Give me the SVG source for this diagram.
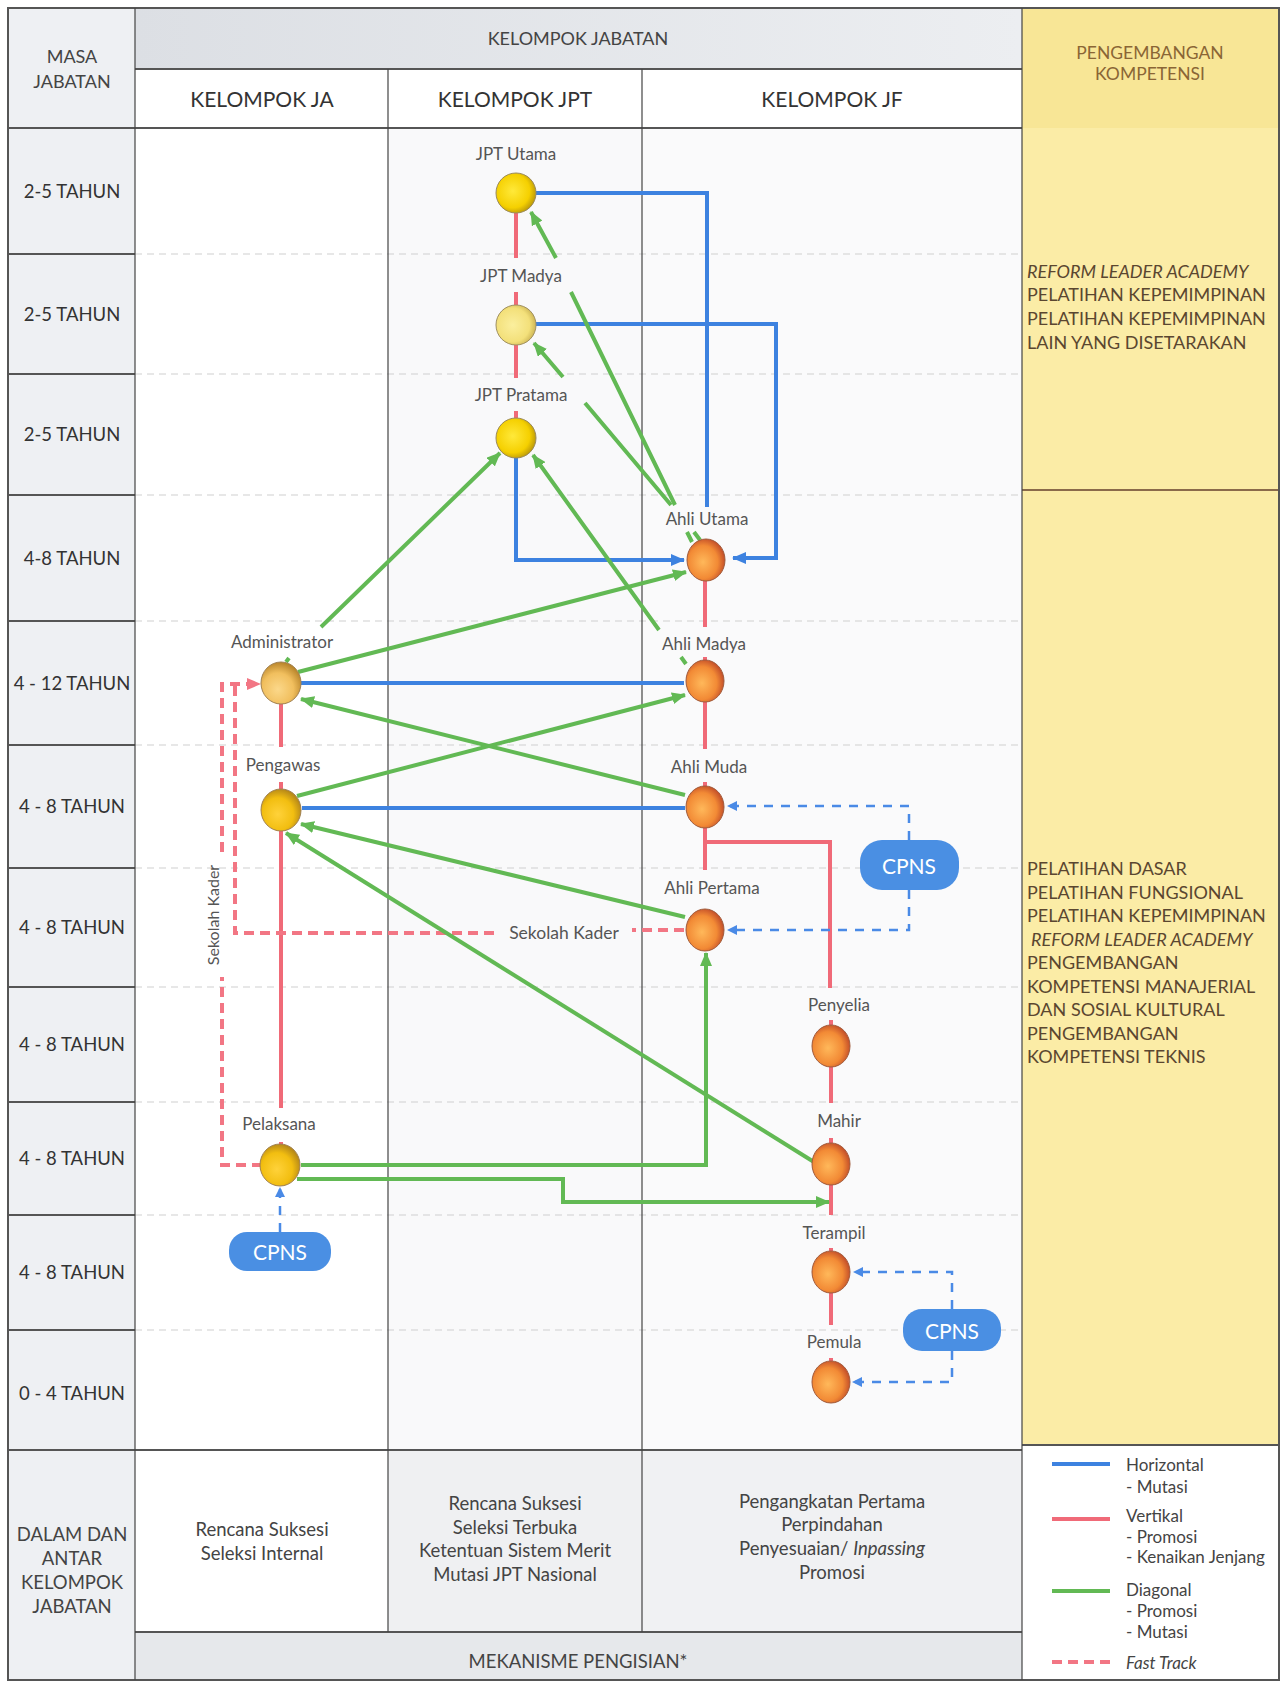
<svg xmlns="http://www.w3.org/2000/svg" width="1283" height="1683" viewBox="0 0 1283 1683">
<style>
text{font-family:Lato,"Open Sans","Liberation Sans",sans-serif}
.row{font-size:18.5px;fill:#333;text-anchor:middle;dominant-baseline:central}
.hd{font-size:18px;fill:#444;text-anchor:middle}
.sub{font-size:21px;fill:#333;text-anchor:middle}
.lbl{font-size:17px;fill:#555;text-anchor:middle}
.bot{font-size:18.5px;fill:#444;text-anchor:middle}
.yl{font-size:18px;fill:#5a4630}
.yh{font-size:17.5px;fill:#8a6535;text-anchor:middle}
.lg{font-size:17px;fill:#444}
.cp{font-size:21px;fill:#fff;text-anchor:middle;dominant-baseline:central}
.grid{stroke:#cfcfcf;stroke-width:1.2;stroke-dasharray:7 5}
.solid{stroke:#555;stroke-width:2}
.thin{stroke:#444;stroke-width:1.2}
.b{fill:none;stroke:#3d82e0;stroke-width:4}
.r{fill:none;stroke:#f06a78;stroke-width:4}
.g{fill:none;stroke:#62b954;stroke-width:4}
.rd{fill:none;stroke:#f27684;stroke-width:4;stroke-dasharray:10 6}
.bd{fill:none;stroke:#4a8ae6;stroke-width:2.5;stroke-dasharray:9 8}
.cpns{fill:#4a8fe3}
</style>
<defs>
<marker id="ag" viewBox="0 0 14 12" refX="13" refY="6" markerWidth="14" markerHeight="12" markerUnits="userSpaceOnUse" orient="auto"><path d="M0,0 L14,6 L0,12 z" fill="#62b954"/></marker>
<marker id="ab" viewBox="0 0 14 12" refX="13" refY="6" markerWidth="14" markerHeight="12" markerUnits="userSpaceOnUse" orient="auto"><path d="M0,0 L14,6 L0,12 z" fill="#3d82e0"/></marker>
<marker id="abd" viewBox="0 0 10 10" refX="9" refY="5" markerWidth="10" markerHeight="10" markerUnits="userSpaceOnUse" orient="auto"><path d="M0,0 L10,5 L0,10 z" fill="#4a8ae6"/></marker>
<marker id="ar" viewBox="0 0 14 12" refX="13" refY="6" markerWidth="14" markerHeight="12" markerUnits="userSpaceOnUse" orient="auto"><path d="M0,0 L14,6 L0,12 z" fill="#f27684"/></marker>
<radialGradient id="gY" cx="0.42" cy="0.45" r="0.6"><stop offset="0" stop-color="#ffe93a"/><stop offset="0.7" stop-color="#f5d000"/><stop offset="1" stop-color="#b8960a"/></radialGradient>
<radialGradient id="gP" cx="0.42" cy="0.5" r="0.6"><stop offset="0" stop-color="#fbef9e"/><stop offset="0.7" stop-color="#f3e07a"/><stop offset="1" stop-color="#c8b050"/></radialGradient>
<radialGradient id="gO" cx="0.42" cy="0.55" r="0.6"><stop offset="0" stop-color="#ffb85a"/><stop offset="0.65" stop-color="#f28a35"/><stop offset="1" stop-color="#c04a28"/></radialGradient>
<radialGradient id="gA" cx="0.42" cy="0.65" r="0.65"><stop offset="0" stop-color="#fbd88a"/><stop offset="0.6" stop-color="#f1bf5e"/><stop offset="1" stop-color="#b8842a"/></radialGradient>
<radialGradient id="gG" cx="0.42" cy="0.6" r="0.6"><stop offset="0" stop-color="#ffd23a"/><stop offset="0.65" stop-color="#f2be10"/><stop offset="1" stop-color="#b88a18"/></radialGradient>
<linearGradient id="hdr" x1="0" y1="0" x2="1" y2="0"><stop offset="0" stop-color="#dcdfe4"/><stop offset="1" stop-color="#eceef1"/></linearGradient>
</defs>

<g id="table">
<rect x="8" y="8" width="1271" height="1672" fill="#ffffff"/>
<rect x="8" y="8" width="127" height="1672" fill="#eef0f3"/>
<rect x="135" y="8" width="887" height="61" fill="url(#hdr)"/>
<rect x="388" y="128" width="254" height="1322" fill="#f9f9fa"/>
<rect x="642" y="128" width="380" height="1322" fill="#fafafb"/>
<rect x="388" y="1450" width="254" height="182" fill="#eff0f2"/>
<rect x="642" y="1450" width="380" height="182" fill="#f0f1f3"/>
<rect x="135" y="1632" width="887" height="48" fill="#e6e8eb"/>
<rect x="1022" y="8" width="257" height="120" fill="#f8e696"/>
<rect x="1022" y="128" width="257" height="1317" fill="#fbeca6"/>
<g class="grid">
<line x1="135" y1="254" x2="1022" y2="254"/><line x1="135" y1="374" x2="1022" y2="374"/>
<line x1="135" y1="495" x2="1022" y2="495"/><line x1="135" y1="621" x2="1022" y2="621"/>
<line x1="135" y1="745" x2="1022" y2="745"/><line x1="135" y1="868" x2="1022" y2="868"/>
<line x1="135" y1="987" x2="1022" y2="987"/><line x1="135" y1="1102" x2="1022" y2="1102"/>
<line x1="135" y1="1215" x2="1022" y2="1215"/><line x1="135" y1="1330" x2="1022" y2="1330"/>
</g>
<g class="solid">
<line x1="8" y1="254" x2="135" y2="254"/><line x1="8" y1="374" x2="135" y2="374"/>
<line x1="8" y1="495" x2="135" y2="495"/><line x1="8" y1="621" x2="135" y2="621"/>
<line x1="8" y1="745" x2="135" y2="745"/><line x1="8" y1="868" x2="135" y2="868"/>
<line x1="8" y1="987" x2="135" y2="987"/><line x1="8" y1="1102" x2="135" y2="1102"/>
<line x1="8" y1="1215" x2="135" y2="1215"/><line x1="8" y1="1330" x2="135" y2="1330"/>
<line x1="8" y1="128" x2="1022" y2="128"/><line x1="135" y1="69" x2="1022" y2="69"/>
<line x1="8" y1="1450" x2="1022" y2="1450"/><line x1="1022" y1="1445" x2="1279" y2="1445"/>
<line x1="135" y1="1632" x2="1022" y2="1632"/>
<line x1="1022" y1="490" x2="1279" y2="490" stroke="#8a6a4a"/>
<rect x="8" y="8" width="1271" height="1672" fill="none"/>
</g>
<g class="thin">
<line x1="135" y1="8" x2="135" y2="1680"/><line x1="388" y1="69" x2="388" y2="1632"/>
<line x1="642" y1="69" x2="642" y2="1632"/><line x1="1022" y1="8" x2="1022" y2="1680"/>
</g>
<text class="hd" x="72" y="63">MASA</text><text class="hd" x="72" y="88">JABATAN</text>
<text class="hd" x="578" y="45">KELOMPOK JABATAN</text>
<text class="sub" x="262" y="107">KELOMPOK JA</text>
<text class="sub" x="515" y="107">KELOMPOK JPT</text>
<text class="sub" x="832" y="107">KELOMPOK JF</text>
<text class="yh" x="1150" y="59">PENGEMBANGAN</text><text class="yh" x="1150" y="80">KOMPETENSI</text>
<text class="row" x="72" y="191">2-5 TAHUN</text>
<text class="row" x="72" y="314">2-5 TAHUN</text>
<text class="row" x="72" y="434">2-5 TAHUN</text>
<text class="row" x="72" y="558">4-8 TAHUN</text>
<text class="row" x="72" y="683">4 - 12 TAHUN</text>
<text class="row" x="72" y="806">4 - 8 TAHUN</text>
<text class="row" x="72" y="927">4 - 8 TAHUN</text>
<text class="row" x="72" y="1044">4 - 8 TAHUN</text>
<text class="row" x="72" y="1158">4 - 8 TAHUN</text>
<text class="row" x="72" y="1272">4 - 8 TAHUN</text>
<text class="row" x="72" y="1393">0 - 4 TAHUN</text>
<text class="bot" x="72" y="1541">DALAM DAN</text><text class="bot" x="72" y="1565">ANTAR</text>
<text class="bot" x="72" y="1589">KELOMPOK</text><text class="bot" x="72" y="1613">JABATAN</text>
<text class="bot" x="262" y="1536">Rencana Suksesi</text><text class="bot" x="262" y="1560">Seleksi Internal</text>
<text class="bot" x="515" y="1510">Rencana Suksesi</text><text class="bot" x="515" y="1534">Seleksi Terbuka</text>
<text class="bot" x="515" y="1557">Ketentuan Sistem Merit</text><text class="bot" x="515" y="1581">Mutasi JPT Nasional</text>
<text class="bot" x="832" y="1508">Pengangkatan Pertama</text><text class="bot" x="832" y="1531">Perpindahan</text>
<text class="bot" x="832" y="1555">Penyesuaian/ <tspan font-style="italic">Inpassing</tspan></text><text class="bot" x="832" y="1579">Promosi</text>
<text class="bot" x="578" y="1668">MEKANISME PENGISIAN*</text>
<text class="yl" x="1027" y="278" font-style="italic">REFORM LEADER ACADEMY</text>
<text class="yl" x="1027" y="301">PELATIHAN KEPEMIMPINAN</text>
<text class="yl" x="1027" y="325">PELATIHAN KEPEMIMPINAN</text>
<text class="yl" x="1027" y="349">LAIN YANG DISETARAKAN</text>
<text class="yl" x="1027" y="875">PELATIHAN DASAR</text>
<text class="yl" x="1027" y="899">PELATIHAN FUNGSIONAL</text>
<text class="yl" x="1027" y="922">PELATIHAN KEPEMIMPINAN</text>
<text class="yl" x="1031" y="946" font-style="italic">REFORM LEADER ACADEMY</text>
<text class="yl" x="1027" y="969">PENGEMBANGAN</text>
<text class="yl" x="1027" y="993">KOMPETENSI MANAJERIAL</text>
<text class="yl" x="1027" y="1016">DAN SOSIAL KULTURAL</text>
<text class="yl" x="1027" y="1040">PENGEMBANGAN</text>
<text class="yl" x="1027" y="1063">KOMPETENSI TEKNIS</text>
</g>

<g id="legend">
<line x1="1052" y1="1464" x2="1110" y2="1464" class="b"/>
<text class="lg" x="1126" y="1471">Horizontal</text><text class="lg" x="1126" y="1493">- Mutasi</text>
<line x1="1052" y1="1519" x2="1110" y2="1519" class="r"/>
<text class="lg" x="1126" y="1522">Vertikal</text><text class="lg" x="1126" y="1543">- Promosi</text><text class="lg" x="1126" y="1563">- Kenaikan Jenjang</text>
<line x1="1052" y1="1591" x2="1110" y2="1591" class="g"/>
<text class="lg" x="1126" y="1596">Diagonal</text><text class="lg" x="1126" y="1617">- Promosi</text><text class="lg" x="1126" y="1638">- Mutasi</text>
<line x1="1052" y1="1662" x2="1110" y2="1662" class="rd"/>
<text class="lg" x="1126" y="1669" font-style="italic">Fast Track</text>
</g>

<g id="connectors">
<path class="r" d="M516 213 V258 M516 292 V305 M516 345 V378 M516 411 V418"/>
<path class="r" d="M705 581 V627 M705 657 V661 M705 702 V749 M705 782 V787 M705 828 V870 M705 842 H830 V988"/>
<path class="r" d="M831 1020 V1025 M831 1067 V1103 M831 1138 V1143 M831 1185 V1215 M831 1248 V1251 M831 1293 V1325 M831 1358 V1361"/>
<path class="r" d="M281 704 V747 M281 782 V789 M281 831 V1108 M281 1142 V1145"/>
<path class="b" d="M536 193 H707 V507"/>
<path class="b" d="M536 324 H776 V558 H733" marker-end="url(#ab)"/>
<path class="b" d="M516 458 V560 H684" marker-end="url(#ab)"/>
<path class="b" d="M301 683 H684"/>
<path class="b" d="M302 808 H685"/>
<path class="bd" d="M909 840 V806 H728" marker-end="url(#abd)"/>
<path class="bd" d="M909 890 V930 H728" marker-end="url(#abd)"/>
<path class="bd" d="M280 1232 V1188" marker-end="url(#abd)"/>
<path class="bd" d="M952 1309 V1272 H854" marker-end="url(#abd)"/>
<path class="bd" d="M952 1351 V1382 H853" marker-end="url(#abd)"/>
<path class="rd" d="M684 930 H632 M494 933 H235 V684"/>
<path class="rd" d="M262 1165 H222 V977 M222 852 V684 H260" marker-end="url(#ar)"/>
<path class="g" d="M692 542 L687 532 M675 505 L571 292 M556 258 L531 212" marker-end="url(#ag)"/>
<path class="g" d="M700 540 L694 532 M671 505 L585 403 M563 377 L534 343" marker-end="url(#ag)"/>
<path class="g" d="M686 664 L681 657 M659 630 L533 455" marker-end="url(#ag)"/>
<path class="g" d="M286 662 L289 658 M321 627 L500 453" marker-end="url(#ag)"/>
<path class="g" d="M298 672 L686 572" marker-end="url(#ag)"/>
<path class="g" d="M685 795 L301 699" marker-end="url(#ag)"/>
<path class="g" d="M297 796 L685 695" marker-end="url(#ag)"/>
<path class="g" d="M685 917 L301 824" marker-end="url(#ag)"/>
<path class="g" d="M814 1162 L286 833" marker-end="url(#ag)"/>
<path class="g" d="M301 1165 H706 V953" marker-end="url(#ag)"/>
<path class="g" d="M297 1179 H563 V1202 H829" marker-end="url(#ag)"/>
<text class="lbl" x="564" y="939" style="font-size:17.5px">Sekolah Kader</text>
<text class="lbl" transform="translate(214 915) rotate(-90)" x="0" y="5" style="font-size:16px">Sekolah Kader</text>
</g>

<g id="n-jpt-utama"><text class="lbl" x="516" y="160">JPT Utama</text><ellipse cx="516" cy="193" rx="20" ry="20" fill="url(#gY)" stroke="#9a8a5a"/></g>
<g id="n-jpt-madya"><text class="lbl" x="521" y="282">JPT Madya</text><ellipse cx="516" cy="325" rx="20" ry="20" fill="url(#gP)" stroke="#a09060"/></g>
<g id="n-jpt-pratama"><text class="lbl" x="521" y="401">JPT Pratama</text><ellipse cx="516" cy="438" rx="20" ry="20" fill="url(#gY)" stroke="#9a8a5a"/></g>
<g id="n-ahli-utama"><text class="lbl" x="707" y="525">Ahli Utama</text><ellipse cx="706" cy="560" rx="19" ry="21" fill="url(#gO)" stroke="#a05a3a"/></g>
<g id="n-ahli-madya"><text class="lbl" x="704" y="650">Ahli Madya</text><ellipse cx="705" cy="681" rx="19" ry="21" fill="url(#gO)" stroke="#a05a3a"/></g>
<g id="n-ahli-muda"><text class="lbl" x="709" y="773">Ahli Muda</text><ellipse cx="705" cy="807" rx="19" ry="21" fill="url(#gO)" stroke="#a05a3a"/></g>
<g id="n-ahli-pertama"><text class="lbl" x="712" y="894">Ahli Pertama</text><ellipse cx="705" cy="930" rx="19" ry="21" fill="url(#gO)" stroke="#a05a3a"/></g>
<g id="n-penyelia"><text class="lbl" x="839" y="1011">Penyelia</text><ellipse cx="831" cy="1046" rx="19" ry="21" fill="url(#gO)" stroke="#a05a3a"/></g>
<g id="n-mahir"><text class="lbl" x="839" y="1127">Mahir</text><ellipse cx="831" cy="1164" rx="19" ry="21" fill="url(#gO)" stroke="#a05a3a"/></g>
<g id="n-terampil"><text class="lbl" x="834" y="1239">Terampil</text><ellipse cx="831" cy="1272" rx="19" ry="21" fill="url(#gO)" stroke="#a05a3a"/></g>
<g id="n-pemula"><text class="lbl" x="834" y="1348">Pemula</text><ellipse cx="831" cy="1382" rx="19" ry="21" fill="url(#gO)" stroke="#a05a3a"/></g>
<g id="n-administrator"><text class="lbl" x="282" y="648">Administrator</text><ellipse cx="281" cy="683" rx="20" ry="21" fill="url(#gA)" stroke="#a08050"/></g>
<g id="n-pengawas"><text class="lbl" x="283" y="771">Pengawas</text><ellipse cx="281" cy="810" rx="20" ry="21" fill="url(#gG)" stroke="#a08050"/></g>
<g id="n-pelaksana"><text class="lbl" x="279" y="1130">Pelaksana</text><ellipse cx="280" cy="1165" rx="20" ry="21" fill="url(#gG)" stroke="#a08050"/></g>
<g id="n-cpns-1"><rect class="cpns" x="860" y="840" width="99" height="50" rx="22"/><text class="cp" x="909" y="865">CPNS</text></g>
<g id="n-cpns-2"><rect class="cpns" x="229" y="1232" width="102" height="39" rx="18"/><text class="cp" x="280" y="1251">CPNS</text></g>
<g id="n-cpns-3"><rect class="cpns" x="903" y="1309" width="98" height="42" rx="19"/><text class="cp" x="952" y="1330">CPNS</text></g>
</svg>
